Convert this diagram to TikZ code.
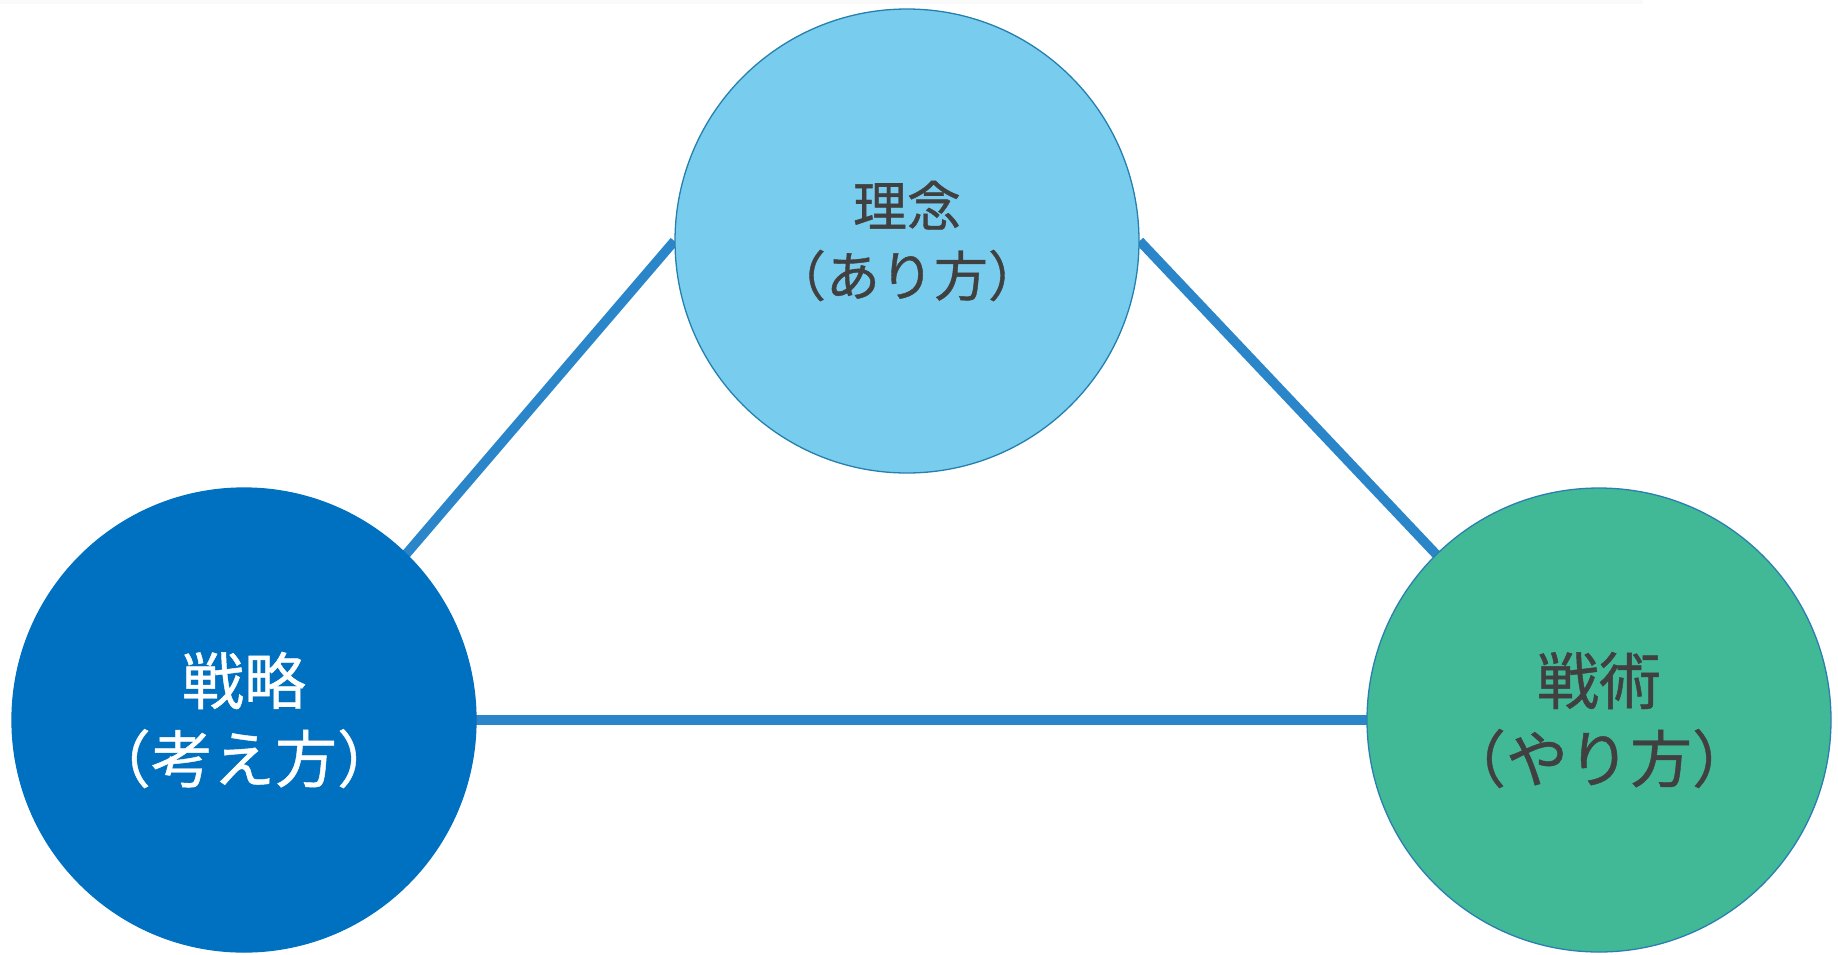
\documentclass[tikz,border=0pt]{standalone}
\usepackage{fontspec}
\setmainfont{Noto Sans CJK JP}
\newfontfamily\jpfont[FakeBold=0.7]{Noto Sans CJK JP}
\definecolor{topfill}{HTML}{78CDEF}
\definecolor{topline}{HTML}{2580AE}
\definecolor{leftfill}{HTML}{0070C0}
\definecolor{rightfill}{HTML}{42B996}
\definecolor{rightline}{HTML}{2A7FB0}
\definecolor{linkblue}{HTML}{2B86C9}
\definecolor{txtgray}{HTML}{404040}
\definecolor{stripgray}{HTML}{FAFAFA}
\tikzset{
  bubble/.style={circle, minimum size=464pt, inner sep=0pt, align=center, line width=1.3pt},
  bigtext/.style={font=\jpfont\fontsize{62}{78}\selectfont},
  toptext/.style={font=\jpfont\fontsize{54}{70}\selectfont},
  link/.style={draw=linkblue, line width=9.5pt}
}
\begin{document}
\begin{tikzpicture}[x=1pt,y=-1pt]
\useasboundingbox (0,0) rectangle (1838,954);
\fill[stripgray] (0,0) rectangle (1643,4);
\coordinate (ctop) at (907,241);
\coordinate (cleft) at (244,720);
\coordinate (cright) at (1599,720);
\path (ctop) node[bubble, name=top] {};
\path (cleft) node[bubble, name=left] {};
\path (cright) node[bubble, name=right] {};
\draw[link] (top.west) -- ([xshift=20pt]left.center);
\draw[link] (top.east) -- ([xshift=-6pt]right.center);
\draw[link] (left.center) -- (right.center);
\node[bubble, fill=topfill, draw=topline, toptext, text=txtgray] at (ctop) {理念\\（あり方）};
\node[bubble, fill=leftfill, draw=leftfill, bigtext, text=white] at (cleft) {戦略\\（考え方）};
\node[bubble, fill=rightfill, draw=rightline, bigtext, text=txtgray] at (cright) {戦術\\（やり方）};
\end{tikzpicture}
\end{document}
